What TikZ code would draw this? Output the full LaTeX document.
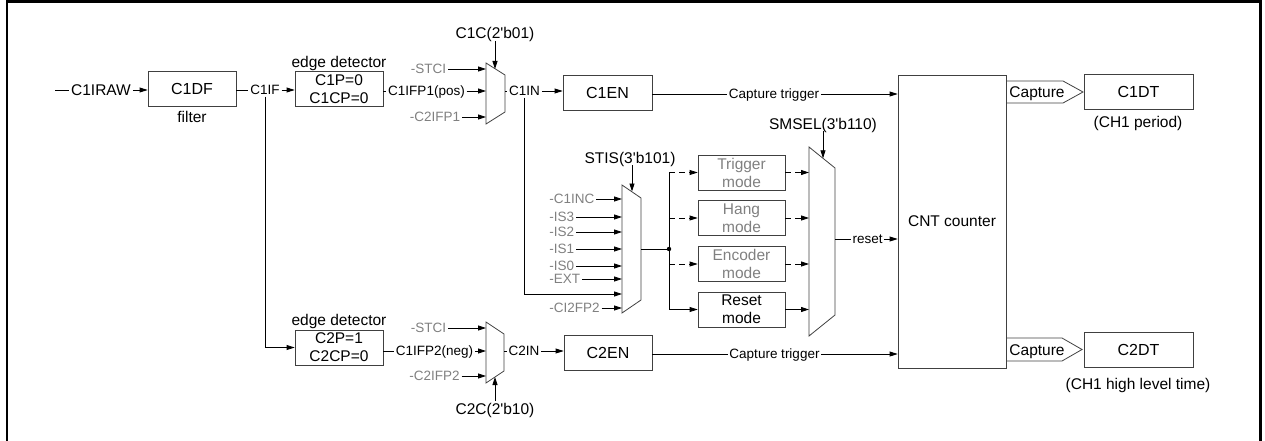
\documentclass[tikz,border=0pt]{standalone}
\usepackage{fontspec}
\setmainfont{Liberation Sans}[Ligatures=TeXOff]
\usetikzlibrary{arrows.meta}

\begin{document}
\begin{tikzpicture}[x=1pt,y=-1pt,line width=0.8pt,
  blk/.style={draw=black!75,inner sep=0pt,align=center,minimum width=88pt,minimum height=35pt,font=\fontsize{16}{18}\selectfont},
  modebox/.style={blk,minimum width=87pt,font=\fontsize{15.5}{18}\selectfont},
  lbl/.style={inner sep=1.5pt,text height=11pt,text depth=0pt,font=\fontsize{15.5}{18}\selectfont},
  sml/.style={inner sep=1.5pt,text height=9.7pt,text depth=0pt,font=\fontsize{13.5}{16}\selectfont},
  gry/.style={sml,text=black!50},
  arr/.style={-{Triangle[length=8pt,width=5pt]}},
  dsh/.style={arr,dash pattern=on 6pt off 4pt},
  mux/.style={draw=black!75}]
  \useasboundingbox (0,0) rectangle (1265,441);
  \draw[line width=2.5pt] (6.8,443) |- (1260.3,1.3) -- (1260.3,443);
  % input and first channel
  \coordinate (rawin) at (55,90);
  \node[lbl] (raw) at (101,90) {C1IRAW};
  \node[blk] (c1df) at (192,89) {C1DF};
  \node[lbl] (filt) at (192,116.5) {filter};
  \node[sml] (c1if) at (265,90) {C1IF};
  \node[blk,font=\fontsize{15.5}{18}\selectfont] (ed1) at (339,89) {C1P=0\\C1CP=0};
  \node[lbl] (ed1l) at (339,62.5) {edge detector};
  \node[sml] (c1ifp1) at (426.5,91) {C1IFP1(pos)};
  \node[gry] (stci1) at (428.5,69) {-STCI};
  \node[gry] (c2ifp1) at (435,117) {-C2IFP1};
  \draw (rawin) -- (raw.west);
  \draw[arr] (raw.east) -- (raw.east -| c1df.west);
  \draw (c1df.east |- c1if.west) -- (c1if.west);
  \draw[arr] (c1if.east) -- (c1if.east -| ed1.west);
  \draw (ed1.east |- c1ifp1.west) -- (c1ifp1.west);
  \coordinate (m1a) at (486,63); \coordinate (m1b) at (505,75);
  \coordinate (m1c) at (505,112); \coordinate (m1d) at (486,124);
  \coordinate (m1s) at (495,69);
  \draw[mux] (m1a) -- (m1b) -- (m1c) -- (m1d) -- cycle;
  \foreach \n in {stci1,c1ifp1,c2ifp1}
    \draw[arr] (\n.east) -- (\n.east -| m1a);
  \node[lbl] (c1c) at (495,33.5) {C1C(2'b01)};
  \draw[arr] (c1c.south) -- (m1s);
  \node[sml] (c1in) at (524.5,91) {C1IN};
  \node[blk,minimum width=89pt] (c1en) at (607.5,92.5) {C1EN};
  \draw (c1in.west -| m1b) -- (c1in.west);
  \draw[arr] (c1in.east) -- (c1in.east -| c1en.west);
  \node[blk,minimum width=108pt,minimum height=293pt,font=\fontsize{15.5}{18}\selectfont] (cnt) at (952,221.5) {CNT counter};
  \node[sml] (trg1) at (774,94) {Capture trigger};
  \draw (c1en.east |- trg1.west) -- (trg1.west);
  \draw[arr] (trg1.east) -- (trg1.east -| cnt.west);
  % slave mode selection
  \node[lbl] (stis) at (630,158) {STIS(3'b101)};
  \coordinate (m3a) at (622,185); \coordinate (m3b) at (641,198);
  \coordinate (m3c) at (641,300); \coordinate (m3d) at (622,313);
  \coordinate (m3s) at (632,191.5); \coordinate (m3in) at (622,294);
  \draw[mux] (m3a) -- (m3b) -- (m3c) -- (m3d) -- cycle;
  \draw[arr] (m3s |- stis.south) -- (m3s);
  \foreach \y/\t in {199/C1INC,217/IS3,232/IS2,249/IS1,266/IS0,279/EXT,308/CI2FP2}{
    \node[gry,anchor=west] (i\t) at (547.5,\y) {-\t};
    \draw[arr] (i\t.east) -- (i\t.east -| m3a);
  }
  \draw[arr] (c1in.south) |- (m3in);
  \node[modebox,text=black!50] (trig) at (741.5,172.5) {Trigger\\mode};
  \node[modebox,text=black!50] (hang) at (741.5,218) {Hang\\mode};
  \node[modebox,text=black!50] (enc) at (741.5,264) {Encoder\\mode};
  \node[modebox] (rst) at (741.5,309.5) {Reset\\mode};
  \coordinate (jn) at (669,249);
  \draw (m3b |- jn) -- (jn);
  \fill (jn) circle (2.2pt);
  \draw (jn |- trig.west) -- (jn |- rst.west);
  \foreach \b in {trig,hang,enc}
    \draw[dsh] (jn |- \b.west) -- (\b.west);
  \draw[arr] (jn |- rst.west) -- (rst.west);
  \node[lbl] (smsel) at (823,124) {SMSEL(3'b110)};
  \coordinate (m4a) at (809,147); \coordinate (m4b) at (835,168);
  \coordinate (m4c) at (835,315); \coordinate (m4d) at (809,336);
  \coordinate (m4s) at (823,158.3);
  \draw[mux] (m4a) -- (m4b) -- (m4c) -- (m4d) -- cycle;
  \draw[arr] (smsel.south) -- (m4s);
  \foreach \b in {trig,hang,enc}
    \draw[dsh] (\b.east) -- (\b.east -| m4a);
  \draw[arr] (rst.east) -- (rst.east -| m4a);
  \node[sml] (rstl) at (867.5,239) {reset};
  \draw (rstl.west -| m4b) -- (rstl.west);
  \draw[arr] (rstl.east) -- (rstl.east -| cnt.west);
  % second channel
  \node[blk,font=\fontsize{15.5}{18}\selectfont] (ed2) at (339,347.5) {C2P=1\\C2CP=0};
  \node[lbl] (ed2l) at (339,320) {edge detector};
  \draw[arr] (c1if.south) |- (ed2.west);
  \node[sml] (c1ifp2) at (434.5,351) {C1IFP2(neg)};
  \node[gry] (stci2) at (428.5,328) {-STCI};
  \node[gry] (c2ifp2) at (434.5,376) {-C2IFP2};
  \draw (ed2.east |- c1ifp2.west) -- (c1ifp2.west);
  \coordinate (m2a) at (486,322); \coordinate (m2b) at (504,334);
  \coordinate (m2c) at (504,371); \coordinate (m2d) at (486,383);
  \coordinate (m2s) at (495,377);
  \draw[mux] (m2a) -- (m2b) -- (m2c) -- (m2d) -- cycle;
  \foreach \n in {stci2,c1ifp2,c2ifp2}
    \draw[arr] (\n.east) -- (\n.east -| m2a);
  \node[lbl] (c2c) at (495,408.5) {C2C(2'b10)};
  \draw[arr] (c2c.north) -- (m2s);
  \node[sml] (c2in) at (524,351) {C2IN};
  \node[blk] (c2en) at (608,352.5) {C2EN};
  \draw (c2in.west -| m2b) -- (c2in.west);
  \draw[arr] (c2in.east) -- (c2in.east -| c2en.west);
  \node[sml] (trg2) at (774.5,354) {Capture trigger};
  \draw (c2en.east |- trg2.west) -- (trg2.west);
  \draw[arr] (trg2.east) -- (trg2.east -| cnt.west);
  % capture registers
  \node[lbl] (cap1) at (1037,92) {Capture};
  \draw[mux] (cnt.east |- 0,81) -- (1063,81) -- (1083,92) -- (1063,103) -- (cnt.east |- 0,103);
  \node[blk,minimum width=109pt] (c1dt) at (1138.5,92) {C1DT};
  \node[lbl] (c1dtl) at (1138,122.5) {(CH1 period)};
  \node[lbl] (cap2) at (1037,349.5) {Capture};
  \draw[mux] (cnt.east |- 0,338) -- (1062,338) -- (1082,349.5) -- (1062,361) -- (cnt.east |- 0,361);
  \node[blk,minimum width=109pt] (c2dt) at (1138.5,349.5) {C2DT};
  \node[lbl] (c2dtl) at (1138,383.5) {(CH1 high level time)};
\end{tikzpicture}
\end{document}
